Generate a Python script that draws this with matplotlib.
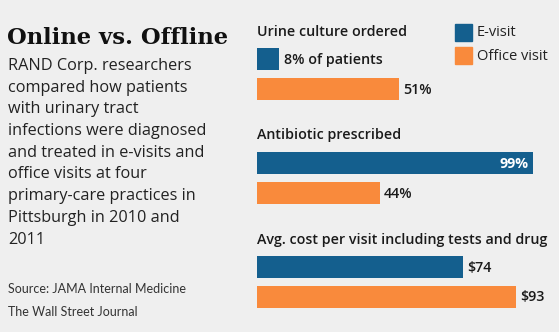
import numpy as np
import matplotlib.pyplot as plt

# Values shown in the bars
measures = ["Urine culture ordered", "Antibiotic prescribed",
            "Avg. cost per visit including tests and drug"]
evisit = [8, 99, 74]
office = [51, 44, 93]
evisit_labels = ["8% of patients", "99%", "$74"]
office_labels = ["51%", "44%", "$93"]

BLUE = "#145f8e"
ORANGE = "#f98a3c"
BG = "#efefef"

W, H = 559, 332
fig = plt.figure(figsize=(W / 100, H / 100), dpi=100, facecolor=BG)

# bar panel: x in value units (2.79 px per unit, zero at px 257), y in pixels
scale = 2.79
x0 = 257
ax = fig.add_axes([0, 0, 1, 1])
ax.set_facecolor(BG)
ax.set_xlim(-x0 / scale, (W - x0) / scale)
ax.set_ylim(H, 0)
ax.axis("off")

title_y = [32, 135, 240]
gap = 104
bar_h = 22
for i in range(len(measures)):
    yb = 59 + i * gap
    yo = 88.5 + i * gap
    ax.text(0, title_y[i], measures[i], fontsize=10.3, fontweight="semibold",
            family="Open Sans", color="#1a1a1a", va="center", ha="left")
    ax.barh(yb, evisit[i], height=bar_h, color=BLUE)
    ax.barh(yo, office[i], height=bar_h, color=ORANGE)
    if evisit[i] > 90:
        ax.text(evisit[i] - 1.8, yb + 1, evisit_labels[i], color="white",
                fontsize=10.3, fontweight="bold", family="Open Sans",
                va="center", ha="right")
    else:
        ax.text(evisit[i] + 1.5, yb + 1, evisit_labels[i], color="#1a1a1a",
                fontsize=10.3, fontweight="semibold", family="Open Sans",
                va="center", ha="left")
    ax.text(office[i] + 1.5, yo + 1, office_labels[i], color="#1a1a1a",
            fontsize=10.3, fontweight="semibold", family="Open Sans",
            va="center", ha="left")

# legend
fig.patches.append(plt.Rectangle((455 / W, 1 - 41 / H), 17 / W, 17 / H,
                                  transform=fig.transFigure, color=BLUE))
fig.patches.append(plt.Rectangle((455 / W, 1 - 64 / H), 17 / W, 17 / H,
                                  transform=fig.transFigure, color=ORANGE))
fig.text(477 / W, 1 - 33 / H, "E-visit", fontsize=10.5, family="Open Sans",
         color="#222222", va="center")
fig.text(477 / W, 1 - 56 / H, "Office visit", fontsize=10.5, family="Open Sans",
         color="#222222", va="center")

# left column text
fig.text(7 / W, 1 - 38 / H, "Online vs. Offline", fontsize=16.3,
         fontweight="bold", family="DejaVu Serif", color="#111111", va="center")
body = ["RAND Corp. researchers",
        "compared how patients",
        "with urinary tract",
        "infections were diagnosed",
        "and treated in e-visits and",
        "office visits at four",
        "primary-care practices in",
        "Pittsburgh in 2010 and",
        "2011"]
for j, line in enumerate(body):
    fig.text(8 / W, 1 - (66 + j * 21.7) / H, line, fontsize=11.7,
             family="Open Sans", color="#222222", va="center")
fig.text(8 / W, 1 - 289 / H, "Source: JAMA Internal Medicine", fontsize=9.0,
         family="Lato", color="#333333", va="center")
fig.text(8 / W, 1 - 312 / H, "The Wall Street Journal", fontsize=9.0,
         family="Lato", color="#333333", va="center")

fig.savefig("out.png", dpi=100, facecolor=BG)
